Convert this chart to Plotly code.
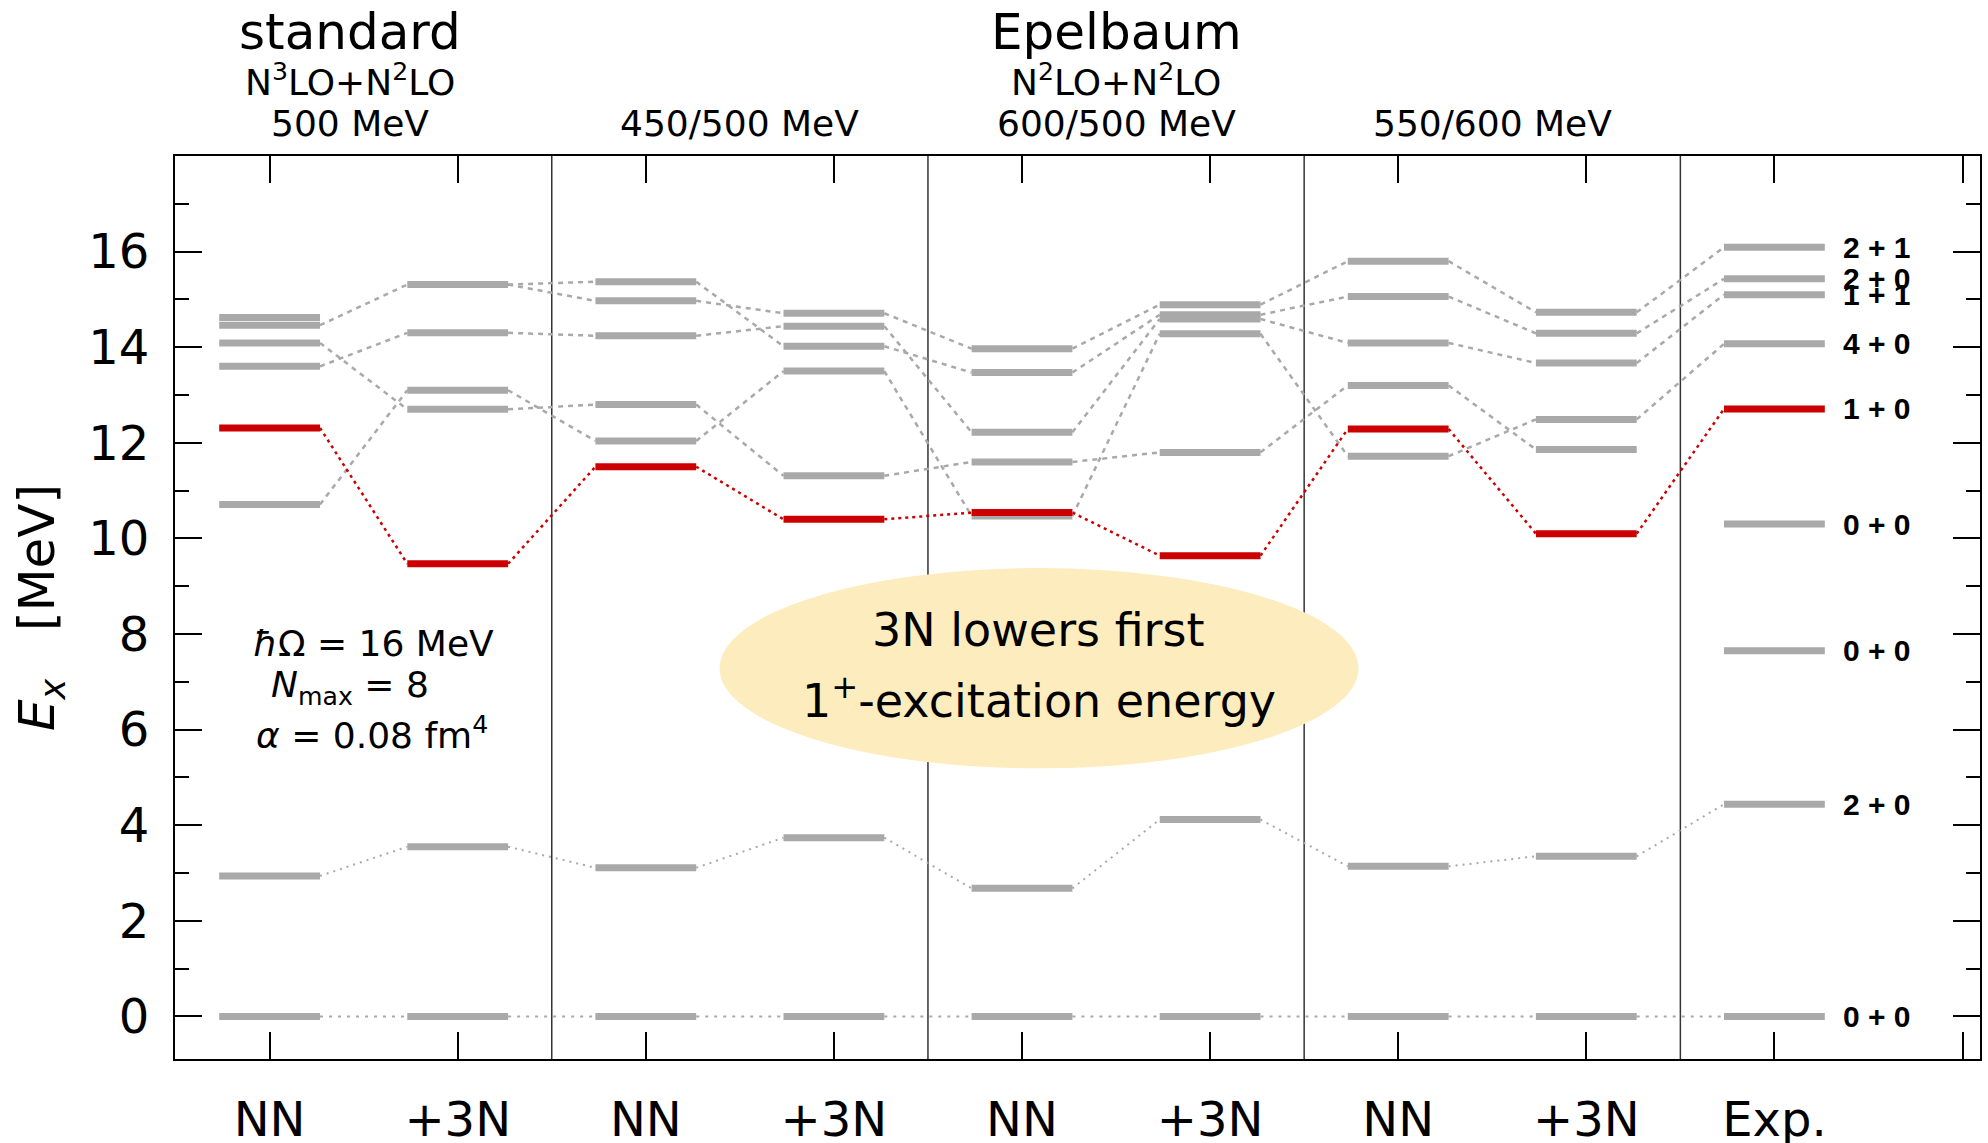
import plotly.graph_objects as go

# Calculation columns (NN-only and NN+3N for each interaction) plus experiment
cats = ["NN", "+3N", "NN", "+3N", "NN", "+3N", "NN", "+3N", "Exp."]

# Ground state and first 2+ state (MeV)
ground = [0.0, 0.0, 0.0, 0.0, 0.0, 0.0, 0.0, 0.0, 0.0]
first_2plus = [2.94, 3.55, 3.11, 3.74, 2.68, 4.12, 3.14, 3.35, 4.44]

# First 1+ (T=0) excitation, highlighted
first_1plus = [12.31, 9.47, 11.50, 10.40, 10.54, 9.64, 12.29, 10.10, 12.71]

# Remaining higher-lying states per column (MeV)
upper_levels = [
    [14.62, 14.46, 14.09, 13.60, 10.71],
    [15.31, 14.30, 13.10, 12.70],
    [15.37, 14.97, 14.24, 12.80, 12.04],
    [14.71, 14.44, 14.02, 13.50, 11.31],
    [13.97, 13.47, 12.22, 11.60, 10.47],
    [14.89, 14.68, 14.59, 14.28, 11.80],
    [15.80, 15.06, 14.09, 13.20, 11.72],
    [14.73, 14.29, 13.67, 12.49, 11.86],
    [16.09, 15.43, 15.10, 14.07, 10.30, 7.65],
]

# Correspondence of upper states between neighbouring columns:
# (index in column i, index in column i+1)
upper_links = [
    [(1, 0), (2, 3), (3, 1), (4, 2)],
    [(0, 0), (0, 1), (1, 2), (2, 4), (3, 3)],
    [(0, 2), (1, 0), (2, 1), (3, 4), (4, 3)],
    [(0, 0), (1, 2), (2, 1), (3, 4), (4, 3)],
    [(0, 0), (1, 1), (2, 2), (4, 3), (3, 4)],
    [(0, 0), (1, 1), (2, 2), (3, 4), (4, 3)],
    [(0, 0), (1, 1), (2, 2), (3, 4), (4, 3)],
    [(0, 0), (1, 1), (2, 2), (3, 3)],
]

# Experimental spin-parity / isospin labels
exp_label_energy = [0.0, 4.44, 7.65, 10.30, 12.71, 14.07, 15.10, 15.43, 16.09]
exp_label_text = ["0 + 0", "2 + 0", "0 + 0", "0 + 0", "1 + 0", "4 + 0", "1 + 1", "2 + 0", "2 + 1"]

# Column headers
header_pos = [0.425, 2.5, 4.5, 6.5]
header_title = ["standard", "", "Epelbaum", ""]
header_order = ["N<sup>3</sup>LO+N<sup>2</sup>LO", "", "N<sup>2</sup>LO+N<sup>2</sup>LO", ""]
header_cutoff = ["500 MeV", "450/500 MeV", "600/500 MeV", "550/600 MeV"]

HALF = 0.268
GRAY = "#a9a9a9"
RED = "#cc0000"
FONT = "DejaVu Sans"

n = len(cats)


def bar_xy(levels_per_col):
    xs, ys = [], []
    for i, levels in enumerate(levels_per_col):
        for e in levels:
            xs += [i - HALF, i + HALF, None]
            ys += [e, e, None]
    return xs, ys


def link_xy(pairs):
    xs, ys = [], []
    for i, a, b in pairs:
        xs += [i + HALF, i + 1 - HALF, None]
        ys += [a, b, None]
    return xs, ys


fig = go.Figure()

# connectors
g_pairs = [(i, ground[i], ground[i + 1]) for i in range(n - 1)]
x, y = link_xy(g_pairs)
fig.add_trace(go.Scatter(x=x, y=y, mode="lines", hoverinfo="skip",
                         line=dict(color=GRAY, width=2, dash="3px,6px")))

t_pairs = [(i, first_2plus[i], first_2plus[i + 1]) for i in range(n - 1)]
x, y = link_xy(t_pairs)
fig.add_trace(go.Scatter(x=x, y=y, mode="lines", hoverinfo="skip",
                         line=dict(color=GRAY, width=2, dash="2px,5px")))

u_pairs = []
for i, links in enumerate(upper_links):
    for a, b in links:
        u_pairs.append((i, upper_levels[i][a], upper_levels[i + 1][b]))
x, y = link_xy(u_pairs)
fig.add_trace(go.Scatter(x=x, y=y, mode="lines", hoverinfo="skip",
                         line=dict(color=GRAY, width=2.5, dash="5px,5px")))

r_pairs = [(i, first_1plus[i], first_1plus[i + 1]) for i in range(n - 1)]
x, y = link_xy(r_pairs)
fig.add_trace(go.Scatter(x=x, y=y, mode="lines", hoverinfo="skip",
                         line=dict(color=RED, width=2.5, dash="3px,4px")))

# level bars
gray_cols = [[ground[i], first_2plus[i]] + upper_levels[i] for i in range(n)]
x, y = bar_xy(gray_cols)
fig.add_trace(go.Scatter(x=x, y=y, mode="lines", hoverinfo="skip",
                         line=dict(color=GRAY, width=7)))
x, y = bar_xy([[e] for e in first_1plus])
fig.add_trace(go.Scatter(x=x, y=y, mode="lines", hoverinfo="skip",
                         line=dict(color=RED, width=7)))

shapes = []
for xs in [1.5, 3.5, 5.5, 7.5]:
    shapes.append(dict(type="line", xref="x", yref="paper", x0=xs, x1=xs, y0=0, y1=1,
                       line=dict(color="#333333", width=1.5), layer="below"))
shapes.append(dict(type="circle", xref="x", yref="y", x0=2.392, x1=5.789, y0=5.19, y1=9.38,
                   fillcolor="#fdecbe", line=dict(width=0), layer="below"))

annotations = []
for xp, t1, t2, t3 in zip(header_pos, header_title, header_order, header_cutoff):
    if t1:
        annotations.append(dict(x=xp, y=1.1373, xref="x", yref="paper", text=t1, showarrow=False,
                                font=dict(family=FONT, size=50, color="black"), yanchor="middle"))
    if t2:
        annotations.append(dict(x=xp, y=1.0842, xref="x", yref="paper", text=t2, showarrow=False,
                                font=dict(family=FONT, size=36, color="black"), yanchor="middle"))
    annotations.append(dict(x=xp, y=1.0365, xref="x", yref="paper", text=t3, showarrow=False,
                            font=dict(family=FONT, size=36, color="black"), yanchor="middle"))

for e, t in zip(exp_label_energy, exp_label_text):
    annotations.append(dict(x=8.352, y=e, xref="x", yref="y", text="<b>" + t + "</b>", showarrow=False,
                            xanchor="left", yanchor="middle",
                            font=dict(family="Liberation Sans", size=30, color="black")))

# model-space parameters
params = [
    (-0.101, 7.81, "<i>ħ</i>Ω = 16 MeV"),
    (-0.005, 6.89, "<i>N</i><sub>max</sub> = 8"),
    (-0.085, 5.93, "<i>α</i> = 0.08 fm<sup>4</sup>"),
]
for px, py, t in params:
    annotations.append(dict(x=px, y=py, xref="x", yref="y", text=t, showarrow=False,
                            xanchor="left", yanchor="middle",
                            font=dict(family=FONT, size=36, color="black")))

annotations.append(dict(x=4.09, y=8.08, xref="x", yref="y", text="3N lowers first", showarrow=False,
                        font=dict(family=FONT, size=46, color="black"), yanchor="middle"))
annotations.append(dict(x=4.09, y=6.66, xref="x", yref="y", text="1<sup>+</sup>-excitation energy",
                        showarrow=False, font=dict(family=FONT, size=46, color="black"), yanchor="middle"))

annotations.append(dict(x=-0.0745, y=0.5, xref="paper", yref="paper",
                        text="<i>E<sub>x</sub></i>\u00a0\u00a0\u00a0[MeV]", textangle=-90, showarrow=False,
                        xanchor="center", yanchor="middle",
                        font=dict(family=FONT, size=50, color="black")))

fig.update_layout(
    width=1988, height=1143,
    margin=dict(l=175, r=8, t=156, b=84),
    paper_bgcolor="white", plot_bgcolor="white",
    showlegend=False,
    shapes=shapes,
    annotations=annotations,
    font=dict(family=FONT, size=48, color="black"),
)

fig.update_xaxes(
    range=[-0.503, 9.093], automargin=False,
    tickmode="array", tickvals=list(range(n + 1)), ticktext=cats + [""],
    ticks="inside", ticklen=27, tickwidth=2, tickcolor="black",
    showline=True, linewidth=2, linecolor="black", mirror="ticks",
    showgrid=False, zeroline=False,
    tickfont=dict(family=FONT, size=48, color="black"),
    ticklabelstandoff=17,
)
fig.update_yaxes(
    range=[-0.89, 18.0], automargin=False,
    tickmode="array", tickvals=list(range(0, 17, 2)),
    ticks="inside", ticklen=27, tickwidth=2, tickcolor="black",
    minor=dict(tickvals=list(range(1, 18, 2)), ticks="inside", ticklen=14, tickwidth=2, tickcolor="black"),
    showline=True, linewidth=2, linecolor="black", mirror="ticks",
    showgrid=False, zeroline=False,
    tickfont=dict(family=FONT, size=48, color="black"),
    ticklabelstandoff=14,
)

fig.write_html("out.html")
